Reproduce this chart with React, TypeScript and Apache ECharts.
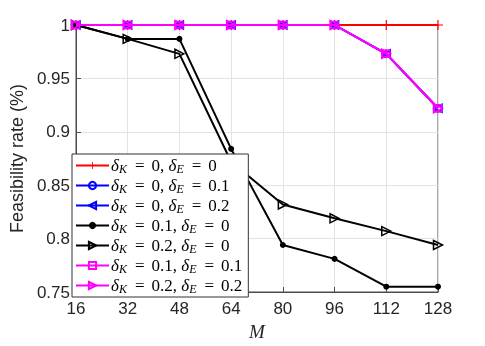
import React, { useEffect, useRef } from "react";
import * as echarts from "echarts";

const mValues = [16, 32, 48, 64, 80, 96, 112, 128];
const deltaK = ["0", "0", "0", "0.1", "0.2", "0.1", "0.2"];
const deltaE = ["0", "0.1", "0.2", "0", "0", "0.1", "0.2"];
const s1 = [1, 1, 1, 1, 1, 1, 1, 1];
const s2 = [1, 1, 1, 1, 1, 1, 0.973, 0.922];
const s3 = [1, 1, 1, 1, 1, 1, 0.973, 0.922];
const s4 = [1, 0.987, 0.987, 0.884, 0.794, 0.781, 0.755, 0.755];
const s5 = [1, 0.987, 0.973, 0.872, 0.832, 0.819, 0.807, 0.794];
const s6 = [1, 1, 1, 1, 1, 1, 0.973, 0.922];
const s7 = [1, 1, 1, 1, 1, 1, 0.973, 0.922];
const yTicks = [0.75, 0.8, 0.85, 0.9, 0.95, 1];

const PLUS = "path://M0.44,0H0.56V0.44H1V0.56H0.56V1H0.44V0.56H0V0.44H0.44Z";
const TRI_LEFT = "path://M0,0.5L1,0L1,1Z";
const TRI_RIGHT = "path://M1,0.5L0,0L0,1Z";

export default function App() {
  const ref = useRef<HTMLDivElement>(null);
  useEffect(() => {
    if (!ref.current) return;
    const chart = echarts.init(ref.current, null, { renderer: "svg" });
    const allData = [s1, s2, s3, s4, s5, s6, s7];
    const colors = ["#ff0000", "#0000ff", "#0000ff", "#000000", "#000000", "#ff00ff", "#ff00ff"];
    const symbols = [PLUS, "circle", TRI_LEFT, "circle", TRI_RIGHT, "rect", TRI_RIGHT];
    const sizes = [10, 7, 8, 6, 9, 7, 9];
    const hollow = [false, true, true, false, true, true, true];
    const names = deltaK.map((k, i) => `δK = ${k}, δE = ${deltaE[i]}`);
    const series = allData.map((d, i) => ({
      type: "line",
      name: names[i],
      data: d.map((v, j) => [mValues[j], v]),
      symbol: symbols[i],
      symbolSize: sizes[i],
      showSymbol: true,
      clip: false,
      lineStyle: { color: colors[i], width: 2 },
      itemStyle: hollow[i]
        ? { color: "rgba(255,255,255,0)", borderColor: colors[i], borderWidth: 1.5 }
        : { color: colors[i], borderColor: colors[i], borderWidth: 0 },
      emphasis: { disabled: true },
      z: 2 + i * 0.01,
    }));
    const axisFont = { fontFamily: "Liberation Sans, Arial, sans-serif", fontSize: 17, color: "#262626" };
    chart.setOption({
      animation: false,
      grid: { left: 72, right: 47, top: 25, bottom: 52, show: true, borderColor: "#4d4d4d", borderWidth: 1, backgroundColor: "transparent" },
      xAxis: {
        type: "value",
        min: 16,
        max: 128,
        interval: 16,
        name: "M",
        nameLocation: "middle",
        nameGap: 30,
        nameTextStyle: { fontFamily: "Liberation Serif, serif", fontStyle: "italic", fontSize: 19, color: "#262626" },
        axisLine: { show: true, lineStyle: { color: "#4d4d4d", width: 1 } },
        axisTick: { show: true, inside: true, length: 5, lineStyle: { color: "#4d4d4d" } },
        axisLabel: { ...axisFont, margin: 8 },
        splitLine: { show: true, lineStyle: { color: "#e3e3e3", width: 1 } },
      },
      yAxis: {
        type: "value",
        min: 0.75,
        max: 1,
        interval: 0.05,
        name: "Feasibility rate (%)",
        nameLocation: "middle",
        nameGap: 47,
        nameTextStyle: { fontFamily: "Liberation Sans, Arial, sans-serif", fontSize: 18, color: "#262626" },
        axisLine: { show: true, lineStyle: { color: "#4d4d4d", width: 1 } },
        axisTick: { show: true, inside: true, length: 5, lineStyle: { color: "#4d4d4d" } },
        axisLabel: {
          ...axisFont,
          margin: 6,
          formatter: (v: number) => {
            const t = yTicks.find((y) => Math.abs(y - v) < 1e-6);
            return String(t !== undefined ? t : +v.toFixed(2));
          },
        },
        splitLine: { show: true, lineStyle: { color: "#e3e3e3", width: 1 } },
      },
      legend: {
        show: true,
        orient: "vertical",
        left: 72,
        top: 154,
        backgroundColor: "#ffffff",
        borderColor: "#333333",
        borderWidth: 1,
        borderRadius: 0,
        padding: [2, 6, 2, 3],
        itemGap: 1,
        itemWidth: 33,
        itemHeight: 9,
        selectedMode: false,
        data: names,
        formatter: (name: string) => {
          const i = names.indexOf(name);
          return `{d|δ}{s|K}{e|=}{t|${deltaK[i]}, }{d|δ}{s|E}{e|=}{t|${deltaE[i]}}`;
        },
        textStyle: {
          fontFamily: "Liberation Serif, serif",
          fontSize: 17,
          color: "#000",
          padding: [0, 0, 0, -3],
          rich: {
            d: { fontFamily: "Liberation Serif, serif", fontStyle: "italic", fontSize: 17, color: "#000", lineHeight: 18 },
            s: { fontFamily: "Liberation Serif, serif", fontStyle: "italic", fontSize: 12, color: "#000", padding: [7, 1, 0, 0], lineHeight: 18 },
            e: { fontFamily: "Liberation Serif, serif", fontSize: 17, color: "#000", padding: [0, 7, 0, 7], lineHeight: 18 },
            t: { fontFamily: "Liberation Serif, serif", fontSize: 17, color: "#000", lineHeight: 18 },
          },
        },
      },
      series,
    });
    return () => chart.dispose();
  }, []);
  return <div ref={ref} style={{ position: "fixed", left: 0, top: 0, width: 485, height: 346 }} />;
}
